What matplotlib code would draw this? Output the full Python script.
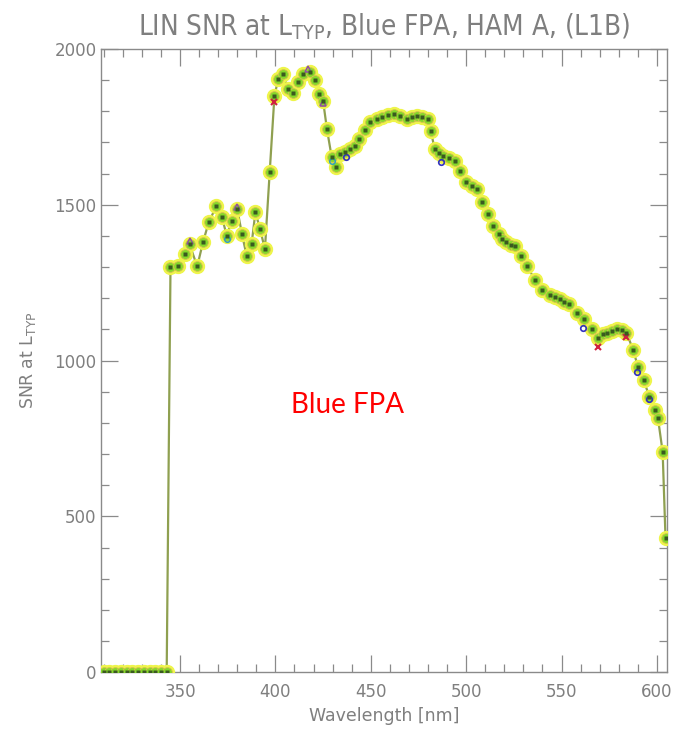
import matplotlib
matplotlib.use("Agg")
import matplotlib.pyplot as plt
from matplotlib.ticker import MultipleLocator

# ---- data ----
wavelength = [310, 313, 316, 319, 322, 325, 328, 331, 334, 337, 340, 343,
              345, 349, 352.5, 355, 359, 362, 365, 369, 372, 374.5, 377, 380,
              382.5, 385, 387.5, 389.5, 392, 394.5, 397, 399.5, 401.5, 404,
              406.5, 409, 412, 414.5, 418, 421, 423, 425, 427, 429.5, 431.5,
              434, 436.5, 439, 441.5, 444, 447, 449.5, 453, 456, 459, 462,
              465.5, 469, 471.5, 474, 477, 480, 481.5, 483.5, 486, 488, 491,
              494, 497, 500, 503, 505.5, 508.5, 511.5, 514, 517, 519, 521,
              523.5, 525.5, 529, 532, 536, 540, 544, 546.5, 549, 551.5, 554,
              558, 562, 566, 569, 571.5, 574, 576.5, 579, 581.5, 584, 587.5,
              590, 593, 596, 599, 600.5, 603, 604.5]
snr = [0, 0, 0, 0, 0, 0, 0, 0, 0, 0, 0, 0,
       1299, 1302, 1341, 1373, 1302, 1379, 1443, 1495, 1460, 1400, 1447, 1485,
       1405, 1334, 1373, 1476, 1421, 1357, 1604, 1850, 1903, 1920,
       1871, 1860, 1894, 1920, 1926, 1900, 1855, 1833, 1743, 1653, 1621,
       1662, 1668, 1678, 1690, 1711, 1740, 1765, 1775, 1781, 1787, 1791,
       1785, 1775, 1780, 1785, 1780, 1775, 1736, 1678, 1665, 1656, 1650,
       1640, 1608, 1572, 1560, 1550, 1508, 1469, 1431, 1405, 1390, 1379,
       1372, 1367, 1334, 1302, 1260, 1228, 1212, 1205, 1196, 1188, 1180,
       1154, 1132, 1100, 1074, 1085, 1090, 1095, 1100, 1097, 1090, 1035,
       981, 939, 884, 842, 817, 707, 431]

# outlying points of other detector series visible in the reference
blue_wl = [437, 487, 561, 589.5, 596]
blue_snr = [1652, 1637, 1103, 962, 878]
red_wl = [569, 399.5, 584]
red_snr = [1045, 1830, 1075]
purple_wl = [355, 380, 425, 417]
purple_snr = [1385, 1492, 1826, 1935]
cyan_wl = [374.5, 429.5]
cyan_snr = [1390, 1640]

title = "LIN SNR at L$_\\mathregular{TYP}$, Blue FPA, HAM A, (L1B)"
xlabel = "Wavelength [nm]"
ylabel = "SNR at L$_\\mathregular{TYP}$"
annotation = "Blue FPA"

gray = "#7f7f7f"

fig = plt.figure(figsize=(6.77, 7.52), dpi=100)
ax = fig.add_axes([0.149, 0.106, 0.836, 0.829])

ax.plot(wavelength, snr, color="#8fa050", lw=1.6, zorder=2)
ax.plot(wavelength, snr, ls="none", marker="o", ms=10, mfc="#eef54a",
        mec="#eef54a", zorder=3)
ax.plot(wavelength, snr, ls="none", marker="o", ms=7, mfc="#86d82a",
        mec="#d8c050", mew=0.6, zorder=4)
ax.plot(wavelength, snr, ls="none", marker="s", ms=2.2, mfc="#3a5a20",
        mec="none", zorder=5)
ax.plot(blue_wl, blue_snr, ls="none", marker="o", ms=4, mfc="none",
        mec="#3030c0", mew=1.2, zorder=4)
ax.plot(red_wl, red_snr, ls="none", marker="x", ms=4, mec="#d02040",
        mew=1.5, zorder=4)
ax.plot(purple_wl, purple_snr, ls="none", marker="^", ms=4, mfc="none",
        mec="#9050a0", mew=1.1, zorder=4)
ax.plot(cyan_wl, cyan_snr, ls="none", marker="o", ms=4, mfc="none",
        mec="#30a0c0", mew=1.1, zorder=4)

ax.set_xlim(308.5, 605.2)
ax.set_ylim(0, 2000)
ax.xaxis.set_major_locator(MultipleLocator(50))
ax.xaxis.set_minor_locator(MultipleLocator(10))
ax.yaxis.set_major_locator(MultipleLocator(500))
ax.yaxis.set_minor_locator(MultipleLocator(100))
ax.tick_params(which="both", direction="in", top=True, right=True,
               colors="#8a8a8a", labelcolor=gray, labelsize=12, width=0.9)
ax.tick_params(which="major", length=12, pad=8)
ax.tick_params(which="minor", length=6)
ax.tick_params(axis="y", pad=3)
for sp in ax.spines.values():
    sp.set_color("#8a8a8a")
    sp.set_linewidth(1.0)

ax.set_title(title, color=gray, fontsize=20, pad=10, fontstretch="condensed")
ax.set_xlabel(xlabel, color=gray, fontsize=12.5, labelpad=4)
ax.set_ylabel(ylabel, color=gray, fontsize=12.5, labelpad=12)

ax.text(438, 858, annotation, color="#ff0000", fontsize=20, family="Lato",
        ha="center", va="center")

fig.savefig("out.png", dpi=100)
